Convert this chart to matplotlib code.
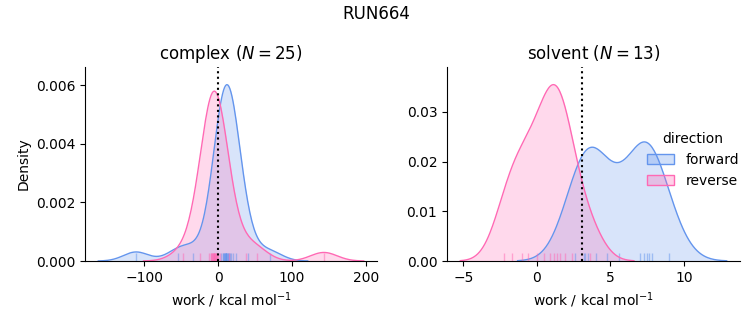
import numpy as np
import matplotlib.pyplot as plt
from matplotlib.patches import Patch

# Work values (kcal/mol) per phase and direction
complex_forward = [-111, -54, -34, 4, 6, 7, 8, 8, 9, 9, 10, 10, 10, 11, 11,
                   12, 13, 14, 15, 16, 18, 20, 24, 40, 70]
complex_reverse = [-47, -25, -12, -10, -9, -8, -8, -7, -7, -6, -6, -5, -5,
                   -4, -4, -3, -3, -2, -1, 0, 2, 15, 38, 52, 143]
solvent_forward = [2.6, 3.2, 3.3, 3.45, 4.0, 4.8, 5.6, 7.0, 7.3, 7.5, 7.6,
                   7.8, 9.0]
solvent_reverse = [-2.2, -1.7, -1.0, -0.6, 0.0, 0.5, 0.9, 1.2, 1.4, 1.6, 1.9,
                   2.4, 3.6]

# Free energy estimates marked with a dotted line
complex_estimate = 0.0
solvent_estimate = 3.07

run_name = "RUN664"
colors = {"forward": "#6495ED", "reverse": "#FF69B4"}

n_total = (len(complex_forward) + len(complex_reverse)
           + len(solvent_forward) + len(solvent_reverse))


def kde(values, cut=3, gridsize=200):
    x = np.asarray(values, dtype=float)
    n = len(x)
    bw = x.std(ddof=1) * n ** (-1 / 5)  # scott
    grid = np.linspace(x.min() - cut * bw, x.max() + cut * bw, gridsize)
    dens = np.exp(-0.5 * ((grid[:, None] - x[None, :]) / bw) ** 2).sum(axis=1)
    dens /= n * bw * np.sqrt(2 * np.pi)
    # normalised over the whole data set
    return grid, dens * n / n_total


fig = plt.figure(figsize=(7.53, 3.25), dpi=100)
ax1 = fig.add_axes([0.1129, 0.1969, 0.3878, 0.5969])
ax2 = fig.add_axes([0.5936, 0.1969, 0.3891, 0.5969])

panels = [
    (ax1, "complex", complex_forward, complex_reverse, complex_estimate),
    (ax2, "solvent", solvent_forward, solvent_reverse, solvent_estimate),
]

for ax, phase, fwd, rev, est in panels:
    ymax = 0
    for name, vals in [("forward", fwd), ("reverse", rev)]:
        c = colors[name]
        x, y = kde(vals)
        ymax = max(ymax, y.max())
        ax.fill_between(x, 0, y, color=c, alpha=0.25, lw=0)
        ax.plot(x, y, color=c, lw=1)
        ax.vlines(vals, 0, 0.04, color=c, lw=1, alpha=0.5,
                  transform=ax.get_xaxis_transform())
    ax.axvline(est, color="black", ls=":", lw=1.5)
    ax.set_ylim(0, ymax * 1.1)
    ax.set_title(f"{phase} ($N = {len(fwd)}$)", fontsize=12)
    ax.set_xlabel("work / kcal mol$^{-1}$")
    ax.spines["top"].set_visible(False)
    ax.spines["right"].set_visible(False)

ax1.set_ylabel("Density")
ax1.set_yticks([0, 0.002, 0.004, 0.006])
ax1.set_yticklabels(["0.000", "0.002", "0.004", "0.006"])
ax1.set_xticks([-100, 0, 100, 200])
ax2.set_yticks([0, 0.01, 0.02, 0.03])
ax2.set_xticks([-5, 0, 5, 10])

handles = [Patch(facecolor=colors[k] + "4d", edgecolor=colors[k], lw=1)
           for k in ["forward", "reverse"]]
ax2.legend(handles, ["forward", "reverse"], title="direction", frameon=False,
           loc="center right", bbox_to_anchor=(1.04, 0.52), fontsize=10,
           title_fontsize=10)

fig.suptitle(run_name, fontsize=12, y=0.985)
fig.savefig("out.png", dpi=100)
